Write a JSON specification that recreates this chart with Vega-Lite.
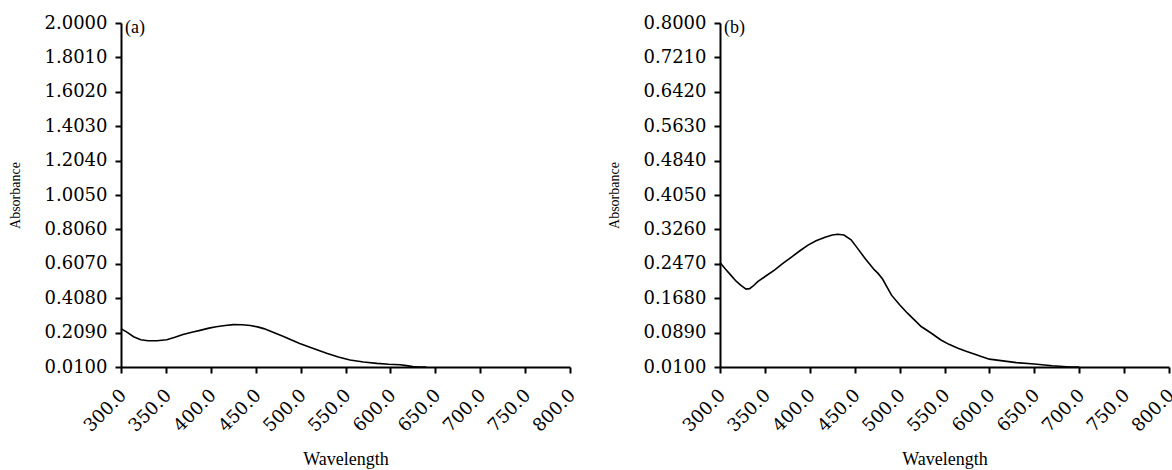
{
  "$schema": "https://vega.github.io/schema/vega-lite/v6.json",
  "padding": {"left": 8, "top": 14, "right": 0, "bottom": 0},
  "background": "white",
  "spacing": 28,
  "config": {
    "view": {"stroke": null},
    "axis": {
      "grid": false,
      "domainColor": "black",
      "domainWidth": 2,
      "tickColor": "black",
      "tickWidth": 2,
      "tickSize": 6,
      "labelColor": "black",
      "titleColor": "black",
      "labelFont": "DejaVu Serif",
      "labelFontSize": 18,
      "labelOverlap": false,
      "titleFont": "Liberation Serif",
      "titleFontWeight": "normal"
    }
  },
  "datasets": {
    "a": [
      {"wl": 300, "abs": 0.232}, {"wl": 307, "abs": 0.21}, {"wl": 314, "abs": 0.185},
      {"wl": 322, "abs": 0.168}, {"wl": 330, "abs": 0.162}, {"wl": 340, "abs": 0.162},
      {"wl": 351, "abs": 0.168}, {"wl": 360, "abs": 0.182}, {"wl": 369, "abs": 0.198},
      {"wl": 380, "abs": 0.212}, {"wl": 388, "abs": 0.222}, {"wl": 398, "abs": 0.235},
      {"wl": 406, "abs": 0.243}, {"wl": 416, "abs": 0.25}, {"wl": 425, "abs": 0.255},
      {"wl": 435, "abs": 0.254}, {"wl": 444, "abs": 0.25}, {"wl": 452, "abs": 0.242},
      {"wl": 459, "abs": 0.232}, {"wl": 470, "abs": 0.21}, {"wl": 481, "abs": 0.186},
      {"wl": 490, "abs": 0.166}, {"wl": 499, "abs": 0.146}, {"wl": 515, "abs": 0.116},
      {"wl": 529, "abs": 0.09}, {"wl": 542, "abs": 0.068}, {"wl": 555, "abs": 0.05},
      {"wl": 570, "abs": 0.039}, {"wl": 585, "abs": 0.031}, {"wl": 598, "abs": 0.026},
      {"wl": 611, "abs": 0.023}, {"wl": 618, "abs": 0.018}, {"wl": 625, "abs": 0.012},
      {"wl": 632, "abs": 0.01}, {"wl": 640, "abs": 0.01}
    ],
    "b": [
      {"wl": 300, "abs": 0.25}, {"wl": 306, "abs": 0.235}, {"wl": 312, "abs": 0.221},
      {"wl": 318, "abs": 0.207}, {"wl": 323, "abs": 0.198}, {"wl": 329, "abs": 0.189},
      {"wl": 333, "abs": 0.19}, {"wl": 337, "abs": 0.196}, {"wl": 342, "abs": 0.206},
      {"wl": 351, "abs": 0.219}, {"wl": 361, "abs": 0.233}, {"wl": 370, "abs": 0.248},
      {"wl": 380, "abs": 0.263}, {"wl": 389, "abs": 0.277}, {"wl": 398, "abs": 0.29},
      {"wl": 407, "abs": 0.3}, {"wl": 417, "abs": 0.308}, {"wl": 425, "abs": 0.313},
      {"wl": 431, "abs": 0.315}, {"wl": 438, "abs": 0.313}, {"wl": 446, "abs": 0.302},
      {"wl": 453, "abs": 0.283}, {"wl": 462, "abs": 0.258}, {"wl": 472, "abs": 0.233},
      {"wl": 476, "abs": 0.225}, {"wl": 481, "abs": 0.212}, {"wl": 491, "abs": 0.175},
      {"wl": 500, "abs": 0.153}, {"wl": 509, "abs": 0.133}, {"wl": 517, "abs": 0.117},
      {"wl": 524, "abs": 0.103}, {"wl": 535, "abs": 0.088}, {"wl": 546, "abs": 0.072},
      {"wl": 555, "abs": 0.062}, {"wl": 565, "abs": 0.053}, {"wl": 574, "abs": 0.046},
      {"wl": 583, "abs": 0.04}, {"wl": 591, "abs": 0.034}, {"wl": 600, "abs": 0.028},
      {"wl": 615, "abs": 0.024}, {"wl": 630, "abs": 0.02}, {"wl": 650, "abs": 0.017},
      {"wl": 670, "abs": 0.013}, {"wl": 690, "abs": 0.01}, {"wl": 700, "abs": 0.01}
    ],
    "la": [{"wl": 300, "abs": 2.0, "label": "(a)"}],
    "lb": [{"wl": 300, "abs": 0.8, "label": "(b)"}]
  },
  "hconcat": [
    {
      "width": 449,
      "height": 344,
      "layer": [
        {
          "data": {"name": "a"},
          "mark": {"type": "line", "color": "black", "strokeWidth": 1.6},
          "encoding": {
            "x": {
              "field": "wl", "type": "quantitative",
              "scale": {"domain": [300, 800], "nice": false, "zero": false},
              "axis": {
                "title": "Wavelength", "titleFontSize": 18, "titlePadding": 15,
                "values": [300, 350, 400, 450, 500, 550, 600, 650, 700, 750, 800],
                "tickCount": 11,
                "format": ".1f", "labelAngle": -45, "labelPadding": 13, "labelOffset": -4
              }
            },
            "y": {
              "field": "abs", "type": "quantitative",
              "scale": {"domain": [0.01, 2.0], "nice": false, "zero": false},
              "axis": {
                "title": "Absorbance", "titleFontSize": 14, "titlePadding": 22,
                "values": [0.01, 0.209, 0.408, 0.607, 0.806, 1.005, 1.204, 1.403, 1.602, 1.801, 2.0],
                "tickCount": 11,
                "format": ".4f", "labelPadding": 8
              }
            }
          }
        },
        {
          "data": {"name": "la"},
          "mark": {"type": "text", "align": "left", "baseline": "top", "dx": 4, "dy": -4, "font": "Liberation Serif", "fontSize": 18, "color": "black"},
          "encoding": {
            "x": {"field": "wl", "type": "quantitative"},
            "y": {"field": "abs", "type": "quantitative"},
            "text": {"field": "label"}
          }
        }
      ]
    },
    {
      "width": 449,
      "height": 344,
      "layer": [
        {
          "data": {"name": "b"},
          "mark": {"type": "line", "color": "black", "strokeWidth": 1.6},
          "encoding": {
            "x": {
              "field": "wl", "type": "quantitative",
              "scale": {"domain": [300, 800], "nice": false, "zero": false},
              "axis": {
                "title": "Wavelength", "titleFontSize": 18, "titlePadding": 15,
                "values": [300, 350, 400, 450, 500, 550, 600, 650, 700, 750, 800],
                "tickCount": 11,
                "format": ".1f", "labelAngle": -45, "labelPadding": 13, "labelOffset": -4
              }
            },
            "y": {
              "field": "abs", "type": "quantitative",
              "scale": {"domain": [0.01, 0.8], "nice": false, "zero": false},
              "axis": {
                "title": "Absorbance", "titleFontSize": 14, "titlePadding": 22,
                "values": [0.01, 0.089, 0.168, 0.247, 0.326, 0.405, 0.484, 0.563, 0.642, 0.721, 0.8],
                "tickCount": 11,
                "format": ".4f", "labelPadding": 8
              }
            }
          }
        },
        {
          "data": {"name": "lb"},
          "mark": {"type": "text", "align": "left", "baseline": "top", "dx": 4, "dy": -4, "font": "Liberation Serif", "fontSize": 18, "color": "black"},
          "encoding": {
            "x": {"field": "wl", "type": "quantitative"},
            "y": {"field": "abs", "type": "quantitative"},
            "text": {"field": "label"}
          }
        }
      ]
    }
  ]
}
